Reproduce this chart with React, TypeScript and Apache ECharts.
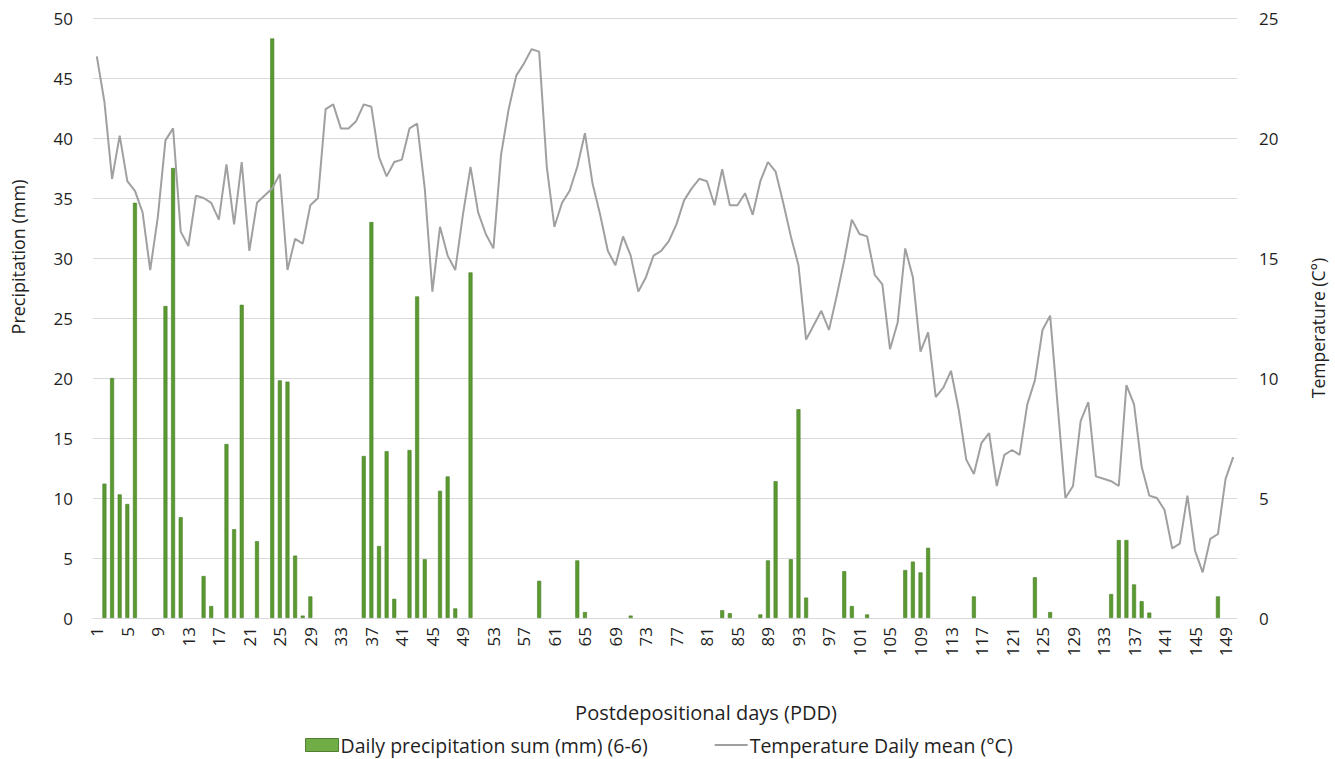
import React, { useEffect, useRef } from "react";
import * as echarts from "echarts";

// Postdepositional days 1..150
const days: string[] = Array.from({ length: 150 }, (_, i) => String(i + 1));

// Days with precipitation and their daily sums (mm)
const rainDays: number[] = [
  2, 3, 4, 5, 6, 10, 11, 12, 15, 16, 18, 19, 20, 22, 24, 25, 26, 27, 28, 29,
  36, 37, 38, 39, 40, 42, 43, 44, 46, 47, 48, 50, 59, 64, 65, 71, 83, 84, 88,
  89, 90, 92, 93, 94, 99, 100, 102, 107, 108, 109, 110, 116, 124, 126, 134,
  135, 136, 137, 138, 139, 148,
];
const rainMm: number[] = [
  11.2, 20.0, 10.3, 9.5, 34.6, 26.0, 37.5, 8.4, 3.5, 1.0, 14.5, 7.4, 26.1, 6.4,
  48.3, 19.8, 19.7, 5.2, 0.2, 1.8, 13.5, 33.0, 6.0, 13.9, 1.6, 14.0, 26.8, 4.9,
  10.6, 11.8, 0.8, 28.8, 3.1, 4.8, 0.5, 0.2, 0.65, 0.4, 0.3, 4.8, 11.4, 4.9,
  17.4, 1.7, 3.9, 1.0, 0.3, 4.0, 4.7, 3.8, 5.85, 1.8, 3.4, 0.5, 2.0, 6.5, 6.5,
  2.8, 1.4, 0.45, 1.8,
];

// Daily mean temperature (°C), days 1..150
const tempMean: number[] = [
  23.4, 21.5, 18.3, 20.1, 18.2, 17.8, 16.9, 14.5, 16.7, 19.9,
  20.4, 16.1, 15.5, 17.6, 17.5, 17.3, 16.6, 18.9, 16.4, 19.0,
  15.3, 17.3, 17.6, 17.9, 18.5, 14.5, 15.8, 15.6, 17.2, 17.5,
  21.2, 21.4, 20.4, 20.4, 20.7, 21.4, 21.3, 19.2, 18.4, 19.0,
  19.1, 20.4, 20.6, 17.9, 13.6, 16.3, 15.1, 14.5, 16.8, 18.8,
  16.9, 16.0, 15.4, 19.3, 21.2, 22.6, 23.1, 23.7, 23.6, 18.8,
  16.3, 17.3, 17.8, 18.8, 20.2, 18.1, 16.8, 15.3, 14.7, 15.9,
  15.1, 13.6, 14.2, 15.1, 15.3, 15.7, 16.4, 17.4, 17.9, 18.3,
  18.2, 17.2, 18.7, 17.2, 17.2, 17.7, 16.8, 18.2, 19.0, 18.6,
  17.3, 15.9, 14.7, 11.6, 12.2, 12.8, 12.0, 13.4, 14.9, 16.6,
  16.0, 15.9, 14.3, 13.9, 11.2, 12.3, 15.4, 14.2, 11.1, 11.9,
  9.2, 9.6, 10.3, 8.7, 6.6, 6.0, 7.3, 7.7, 5.5, 6.8,
  7.0, 6.8, 8.9, 9.9, 12.0, 12.6, 8.8, 5.0, 5.5, 8.2,
  9.0, 5.9, 5.8, 5.7, 5.5, 9.7, 8.9, 6.3, 5.1, 5.0,
  4.5, 2.9, 3.1, 5.1, 2.8, 1.9, 3.3, 3.5, 5.8, 6.7,
];

const FONT = "'Open Sans', 'Noto Sans', sans-serif";
const TEXT = "#1f1f1f";

export default function App() {
  const ref = useRef<HTMLDivElement>(null);

  useEffect(() => {
    if (!ref.current) return;
    const chart = echarts.init(ref.current, undefined, { renderer: "svg" });

    const precip: (number | null)[] = days.map(() => null);
    rainDays.forEach((d, i) => {
      precip[d - 1] = rainMm[i];
    });

    chart.setOption({
      animation: false,
      backgroundColor: "#ffffff",
      textStyle: { fontFamily: FONT, color: TEXT },
      grid: { left: 93, top: 18, width: 1144, height: 600, containLabel: false },
      legend: {
        left: 305,
        top: 735,
        padding: 0,
        itemWidth: 33,
        itemHeight: 13,
        itemGap: 67,
        textStyle: {
          fontFamily: FONT,
          fontSize: 19.5,
          lineHeight: 20,
          color: TEXT,
          padding: [0, 0, 0, -3],
        },
        data: [
          {
            name: "Daily precipitation sum (mm) (6-6)",
            icon: "rect",
            itemStyle: { color: "#70ad47", borderColor: "#507e32", borderWidth: 1 },
          },
          {
            name: "Temperature Daily mean (°C)",
            icon: "path://M0,0 L33,0 L33,2 L0,2 Z",
            itemStyle: { color: "#a0a0a0", borderWidth: 0 },
          },
        ],
      },
      xAxis: {
        type: "category",
        data: days,
        boundaryGap: true,
        axisTick: { show: false },
        axisLine: { show: true, lineStyle: { color: "#d9d9d9", width: 1 } },
        axisLabel: {
          interval: 3,
          rotate: 90,
          margin: 9,
          fontSize: 17,
          fontFamily: FONT,
          color: TEXT,
        },
        splitLine: { show: false },
      },
      yAxis: [
        {
          type: "value",
          min: 0,
          max: 50,
          interval: 5,
          axisLine: { show: false },
          axisTick: { show: false },
          axisLabel: { margin: 20, fontSize: 17, fontFamily: FONT, color: TEXT },
          splitLine: { show: true, lineStyle: { color: "#d9d9d9", width: 1 } },
        },
        {
          type: "value",
          min: 0,
          max: 25,
          interval: 5,
          position: "right",
          axisLine: { show: false },
          axisTick: { show: false },
          axisLabel: { margin: 22, fontSize: 17, fontFamily: FONT, color: TEXT },
          splitLine: { show: false },
        },
      ],
      graphic: [
        {
          type: "text",
          x: 18,
          y: 257,
          rotation: Math.PI / 2,
          style: {
            text: "Precipitation (mm)",
            fontSize: 18,
            fontFamily: FONT,
            fill: TEXT,
            align: "center",
            verticalAlign: "middle",
          },
        },
        {
          type: "text",
          x: 1318,
          y: 328,
          rotation: Math.PI / 2,
          style: {
            text: "Temperature (C°)",
            fontSize: 17.5,
            fontFamily: FONT,
            fill: TEXT,
            align: "center",
            verticalAlign: "middle",
          },
        },
        {
          type: "text",
          x: 706,
          y: 712,
          style: {
            text: "Postdepositional days (PDD)",
            fontSize: 20,
            fontFamily: FONT,
            fill: TEXT,
            align: "center",
            verticalAlign: "middle",
          },
        },
      ],
      series: [
        {
          name: "Daily precipitation sum (mm) (6-6)",
          type: "bar",
          yAxisIndex: 0,
          data: precip,
          barWidth: 4,
          itemStyle: { color: "#5a9a31", borderColor: "#4a7f29", borderWidth: 0.6 },
        },
        {
          name: "Temperature Daily mean (°C)",
          type: "line",
          yAxisIndex: 1,
          data: tempMean,
          symbol: "none",
          showSymbol: false,
          lineStyle: { color: "#a0a0a0", width: 2 },
          itemStyle: { color: "#a0a0a0" },
        },
      ],
    });

    return () => chart.dispose();
  }, []);

  return (
    <div
      ref={ref}
      style={{ position: "fixed", left: 0, top: 0, width: 1335, height: 759, background: "#fff" }}
    />
  );
}
